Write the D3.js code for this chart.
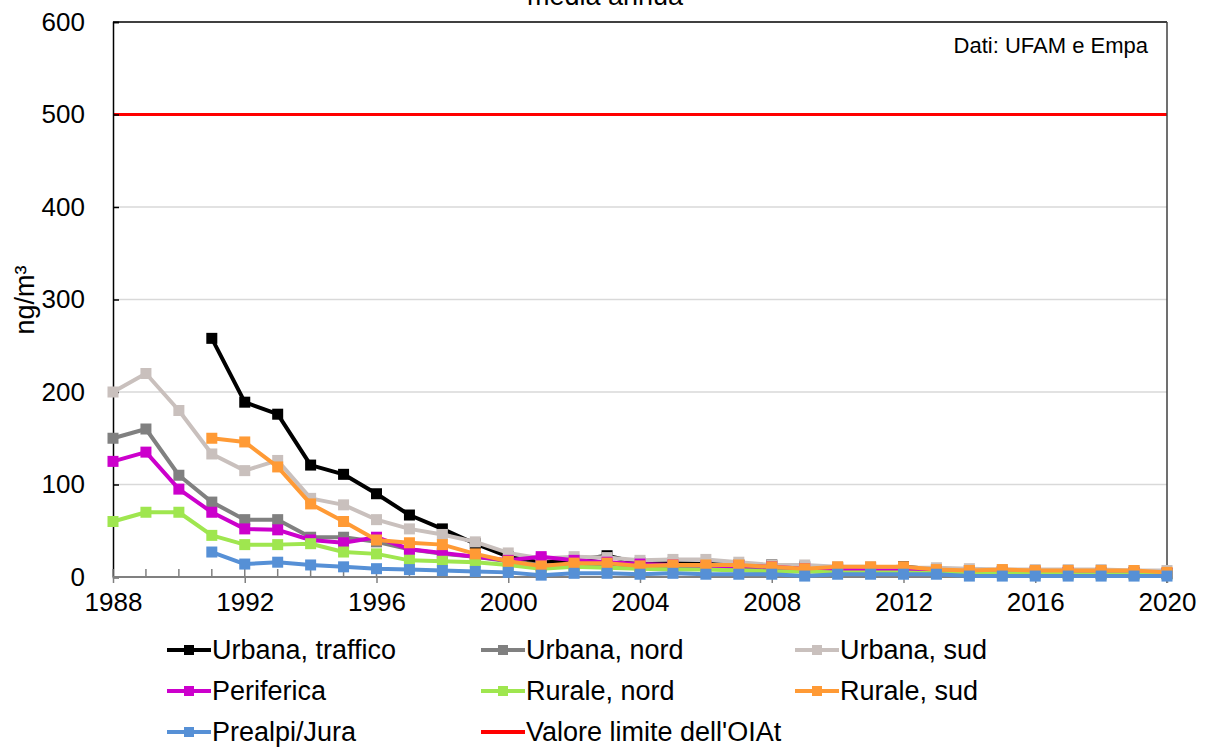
<!DOCTYPE html>
<html>
<head>
<meta charset="utf-8">
<script src="https://cdn.jsdelivr.net/npm/d3@7"></script>
<style>
  html, body { margin: 0; padding: 0; background: #fff; }
  svg { display: block; font-family: "Liberation Sans", Arial, sans-serif; }
</style>
</head>
<body>
<svg id="chart" width="1210" height="751"></svg>
<script>
// ---- data ----
const years = d3.range(1988, 2021);
const yTicks = [0, 100, 200, 300, 400, 500, 600];
const xTicks = [1988, 1992, 1996, 2000, 2004, 2008, 2012, 2016, 2020];
const limitValue = 500;

const urbanaTraffico = [null, null, null, 258, 189, 176, 121, 111, 90, 67, 52, 36, 22, 16, 18, 23, 15, 15, 14, 13, 13, 11, 10, 10, 11, 8, 7, 6, 6, 5, 5, 5, 4];
const urbanaNord     = [150, 160, 110, 81, 62, 62, 43, 43, 38, 30, 25, 22, 17, 13, 12, 12, 10, 10, 9, 9, 8, 8, 7, 7, 6, 6, 5, 5, 4, 4, 4, 4, 4];
const urbanaSud      = [200, 220, 180, 133, 115, 126, 85, 78, 62, 52, 46, 38, 26, 20, 22, 21, 18, 19, 19, 16, 13, 13, 11, 11, 10, 10, 9, 8, 8, 8, 8, 7, 7];
const periferica     = [125, 135, 95, 70, 52, 51, 40, 37, 43, 30, 26, 22, 18, 22, 18, 16, 14, 13, 12, 12, 11, 9, 8, 7, 7, 6, 5, 5, 5, 5, 4, 4, 4];
const ruraleNord     = [60, 70, 70, 45, 35, 35, 36, 27, 25, 18, 17, 16, 13, 9, 11, 10, 9, 8, 8, 7, 6, 6, 5, 5, 5, 4, 4, 4, 4, 3, 3, 3, 3];
const ruraleSud      = [null, null, null, 150, 146, 119, 79, 60, 40, 37, 35, 25, 17, 12, 15, 15, 12, 13, 13, 13, 11, 9, 11, 11, 11, 8, 7, 8, 7, 7, 7, 7, 5];
const prealpiJura    = [null, null, null, 27, 14, 16, 13, 11, 9, 8, 7, 6, 5, 2, 4, 4, 3, 4, 3, 3, 3, 1, 3, 3, 3, 3, 1, 1, 1, 1, 1, 1, 1];

const seriesNames  = ["Urbana, traffico", "Urbana, nord", "Urbana, sud", "Periferica", "Rurale, nord", "Rurale, sud", "Prealpi/Jura"];
const seriesValues = [urbanaTraffico, urbanaNord, urbanaSud, periferica, ruraleNord, ruraleSud, prealpiJura];
const seriesColors = ["#000000", "#808080", "#C9C0BD", "#CC00CC", "#9FE64F", "#FF9A35", "#5690D6"];
const limitName = "Valore limite dell'OIAt";
const limitColor = "#FF0000";

// ---- layout ----
const svg = d3.select("#chart");
const L = 113, R = 1167, T = 22, B = 577;
const x = d3.scaleLinear().domain([1988, 2020]).range([L, R]);
const y = d3.scaleLinear().domain([0, 600]).range([B, T]);
const FS = 26;
const LFS = 27;

// title (partially cut, as in the reference)
svg.append("text").attr("x", 605).attr("y", 5).attr("text-anchor", "middle")
  .attr("font-size", LFS).attr("fill", "#000").text("media annua");

// gridlines
svg.append("g").selectAll("line").data(yTicks.filter(d => d > 0 && d < 600)).join("line")
  .attr("x1", L).attr("x2", R).attr("y1", d => y(d)).attr("y2", d => y(d))
  .attr("stroke", "#D9D9D9").attr("stroke-width", 1.5);

// limit line
svg.append("line").attr("x1", L).attr("x2", R).attr("y1", y(limitValue)).attr("y2", y(limitValue))
  .attr("stroke", limitColor).attr("stroke-width", 3);

// frame: top and right
svg.append("line").attr("x1", L).attr("x2", R).attr("y1", T).attr("y2", T).attr("stroke", "#000").attr("stroke-width", 1.5);
svg.append("line").attr("x1", R).attr("x2", R).attr("y1", T).attr("y2", B + 6).attr("stroke", "#404040").attr("stroke-width", 1.5);

// y axis
const yAxis = d3.axisLeft(y).tickValues(yTicks).tickSize(-6).tickPadding(28).tickFormat(d3.format("d"));
const gy = svg.append("g").attr("transform", `translate(${L},0)`).call(yAxis);
gy.select(".domain").attr("stroke", "#000").attr("stroke-width", 1.5);
gy.selectAll(".tick line").attr("stroke", "#000").attr("stroke-width", 1.5);
gy.selectAll(".tick text").attr("font-size", FS).attr("fill", "#000").attr("font-family", "Liberation Sans, Arial, sans-serif");

// x axis: minor inward ticks every year, major outward every 4 years
const gMinor = svg.append("g");
gMinor.selectAll("line").data(years).join("line")
  .attr("x1", d => x(d)).attr("x2", d => x(d)).attr("y1", B - 8).attr("y2", B)
  .attr("stroke", "#808080").attr("stroke-width", 1.5);
const xAxis = d3.axisBottom(x).tickValues(xTicks).tickSize(6).tickPadding(10).tickFormat(d3.format("d"));
const gx = svg.append("g").attr("transform", `translate(0,${B})`).call(xAxis);
gx.select(".domain").attr("stroke", "#808080").attr("stroke-width", 2).attr("d", `M${L},0H${R}`);
gx.selectAll(".tick line").attr("stroke", "#808080").attr("stroke-width", 1.5);
gx.selectAll(".tick text").attr("font-size", FS).attr("fill", "#000").attr("font-family", "Liberation Sans, Arial, sans-serif");

// y axis title
svg.append("text").attr("transform", `translate(34,${300}) rotate(-90)`).attr("text-anchor", "middle")
  .attr("font-size", LFS).attr("fill", "#000").text("ng/m³");

// source annotation
svg.append("text").attr("x", 1148).attr("y", 53).attr("text-anchor", "end")
  .attr("font-size", 22).attr("fill", "#000").text("Dati: UFAM e Empa");

// series
const line = d3.line().defined(d => d.v != null).x(d => x(d.year)).y(d => y(d.v));
const MS = 11;
seriesValues.forEach((vals, i) => {
  const pts = years.map((yr, j) => ({ year: yr, v: vals[j] }));
  const g = svg.append("g");
  g.append("path").datum(pts).attr("d", line).attr("fill", "none")
    .attr("stroke", seriesColors[i]).attr("stroke-width", 4).attr("stroke-linejoin", "round");
  g.selectAll("rect").data(pts.filter(d => d.v != null)).join("rect")
    .attr("x", d => x(d.year) - MS / 2).attr("y", d => y(d.v) - MS / 2)
    .attr("width", MS).attr("height", MS).attr("fill", seriesColors[i]);
});

// legend
const legendItems = seriesNames.map((n, i) => ({ name: n, color: seriesColors[i], marker: true }))
  .concat([{ name: limitName, color: limitColor, marker: false }]);
const colX = [167, 481, 795];
const rowY = [650, 691, 732];
const lg = svg.append("g");
legendItems.forEach((it, i) => {
  const cx = colX[i % 3], cy = rowY[Math.floor(i / 3)];
  lg.append("line").attr("x1", cx).attr("x2", cx + 44).attr("y1", cy).attr("y2", cy)
    .attr("stroke", it.color).attr("stroke-width", 4);
  if (it.marker) {
    lg.append("rect").attr("x", cx + 22 - 5).attr("y", cy - 5).attr("width", 10).attr("height", 10).attr("fill", it.color);
  }
  lg.append("text").attr("x", cx + 45).attr("y", cy + 9).attr("font-size", LFS).attr("fill", "#000").text(it.name);
});
</script>
</body>
</html>
